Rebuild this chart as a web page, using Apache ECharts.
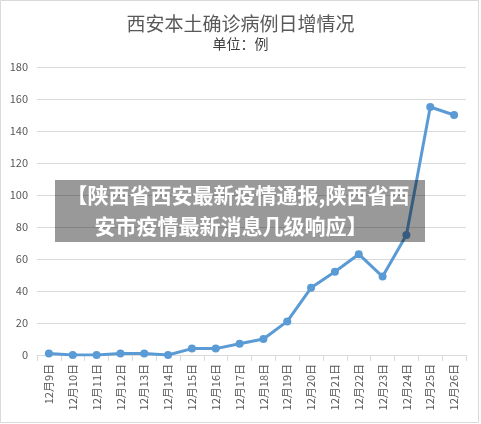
<!DOCTYPE html>
<html>
<head>
<meta charset="utf-8">
<script src="https://cdn.jsdelivr.net/npm/echarts@6/dist/echarts.min.js"></script>
<style>
html,body{margin:0;padding:0;background:#fff;}
#main{width:481px;height:424px;}
</style>
</head>
<body>
<div id="main"></div>
<script>
// 西安本土确诊病例日增 折线图
var days = ['12月9日','12月10日','12月11日','12月12日','12月13日','12月14日','12月15日','12月16日','12月17日',
            '12月18日','12月19日','12月20日','12月21日','12月22日','12月23日','12月24日','12月25日','12月26日'];
var cases = [1, 0, 0, 1, 1, 0, 4, 4, 7, 10, 21, 42, 52, 63, 49, 75, 155, 150];
var yTicks = [0, 20, 40, 60, 80, 100, 120, 140, 160, 180];
var bannerLines = ['【陕西省西安最新疫情通报,陕西省西', '安市疫情最新消息几级响应】'];

var font = '"Noto Sans CJK SC", "Microsoft YaHei", sans-serif';
var myChart = echarts.init(document.getElementById('main'));

var option = {
    animation: false,
    title: [{
        text: '西安本土确诊病例日增情况',
        left: 'center',
        top: 9,
        textStyle: {
            fontSize: 19,
            fontWeight: 'normal',
            color: '#595959',
            fontFamily: font
        }
    }, {
        text: '单位：例',
        left: 'center',
        top: 32,
        textStyle: {
            fontSize: 14,
            fontWeight: 'normal',
            color: '#404040',
            fontFamily: font
        }
    }],
    grid: {
        left: 37,
        right: 15,
        top: 67,
        bottom: 69
    },
    xAxis: {
        type: 'category',
        data: days,
        boundaryGap: true,
        axisLine: {lineStyle: {color: '#d9d9d9', width: 1}},
        axisTick: {show: true, length: 6, lineStyle: {color: '#d9d9d9'}},
        axisLabel: {
            rotate: 90,
            interval: 0,
            margin: 9,
            fontSize: 11,
            color: '#595959',
            fontFamily: font
        }
    },
    yAxis: {
        type: 'value',
        min: yTicks[0],
        max: yTicks[yTicks.length - 1],
        interval: 20,
        axisLine: {show: false},
        axisTick: {show: false},
        splitLine: {lineStyle: {color: '#d9d9d9', width: 1}},
        axisLabel: {
            margin: 9,
            fontSize: 11,
            color: '#595959',
            fontFamily: font,
            formatter: function (v) { return yTicks.indexOf(v) >= 0 ? String(v) : ''; }
        }
    },
    series: [{
        name: '确诊病例',
        type: 'line',
        data: cases,
        symbol: 'circle',
        symbolSize: 8,
        itemStyle: {color: '#5B9BD5'},
        lineStyle: {color: '#5B9BD5', width: 3}
    }],
    graphic: [
        {
            type: 'rect',
            shape: {x: 0.5, y: 0.5, width: 478, height: 422},
            style: {fill: 'none', stroke: '#d9d9d9', lineWidth: 1},
            silent: true
        },
        {
            type: 'rect',
            z: 100,
            shape: {x: 55, y: 180, width: 370, height: 62},
            style: {fill: 'rgba(0,0,0,0.4)'}
        },
        {
            type: 'text',
            z: 101,
            x: 238,
            y: 195,
            style: {
                text: bannerLines[0],
                fill: '#fff',
                font: 'bold 21px ' + font,
                textAlign: 'center',
                textVerticalAlign: 'middle'
            }
        },
        {
            type: 'text',
            z: 101,
            x: 231,
            y: 226,
            style: {
                text: bannerLines[1],
                fill: '#fff',
                font: 'bold 21px ' + font,
                textAlign: 'center',
                textVerticalAlign: 'middle'
            }
        }
    ]
};
myChart.setOption(option);
</script>
</body>
</html>
